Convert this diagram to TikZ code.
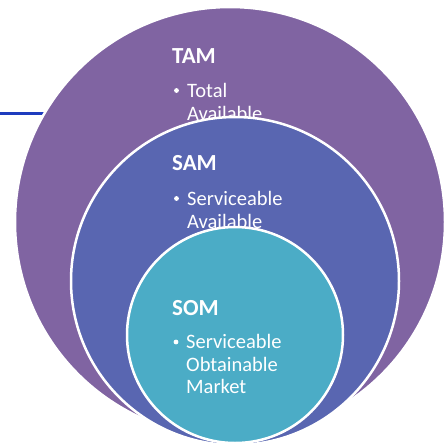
\documentclass[tikz,border=0pt]{standalone}
\usepackage{fontspec}
\setmainfont{Carlito}
\definecolor{tamfill}{HTML}{8064A2}
\definecolor{samfill}{HTML}{5966B1}
\definecolor{somfill}{HTML}{4BACC6}
\definecolor{rulecol}{HTML}{1E3CBE}
\begin{document}
\begin{tikzpicture}[x=1pt,y=-1pt,
  disc/.style={circle, draw=white, line width=2.5pt, inner sep=0pt},
  heading/.style={anchor=base west, inner sep=0pt, text=white,
    font=\bfseries\fontsize{23}{23}\selectfont},
  itemline/.style={anchor=base west, inner sep=0pt, text=white,
    font=\fontsize{20.5}{20.5}\selectfont},
  dot/.style={circle, fill=white, inner sep=0pt, minimum size=4.8pt}]
\useasboundingbox (0,0) rectangle (444,442);
\clip (0,0) rectangle (444,442);

% rule entering from the left, passing under the outer disc
\coordinate (rulestart) at (0,113.5);
\coordinate (ruleend) at (70,113.5);
\draw[rulecol, line width=2.8pt] (rulestart) -- (ruleend);

% TAM
\node[disc, fill=tamfill, minimum size=430pt] (tam) at (230,222) {};
\node[heading] (tamhead) at (172,63) {TAM};
\node[dot] (tamdot) at (176.5,90.5) {};
\node[itemline] (tamA) at (187,97) {Total};
\node[itemline] (tamB) at (187,120) {Available};

% SAM
\node[disc, fill=samfill, minimum size=328pt] (sam) at (235,281) {};
\node[heading] (samhead) at (172,170) {SAM};
\node[dot] (samdot) at (176.5,198.5) {};
\node[itemline] (samA) at (187,205) {Serviceable};
\node[itemline] (samB) at (187,228) {Available};

% SOM
\node[disc, fill=somfill, minimum size=216pt] (som) at (235,335) {};
\node[heading] (somhead) at (172,315) {SOM};
\node[dot] (somdot) at (176,342) {};
\node[itemline] (somA) at (186,348) {Serviceable};
\node[itemline] (somB) at (186,371) {Obtainable};
\node[itemline] (somC) at (186,393.5) {Market};
\end{tikzpicture}
\end{document}
